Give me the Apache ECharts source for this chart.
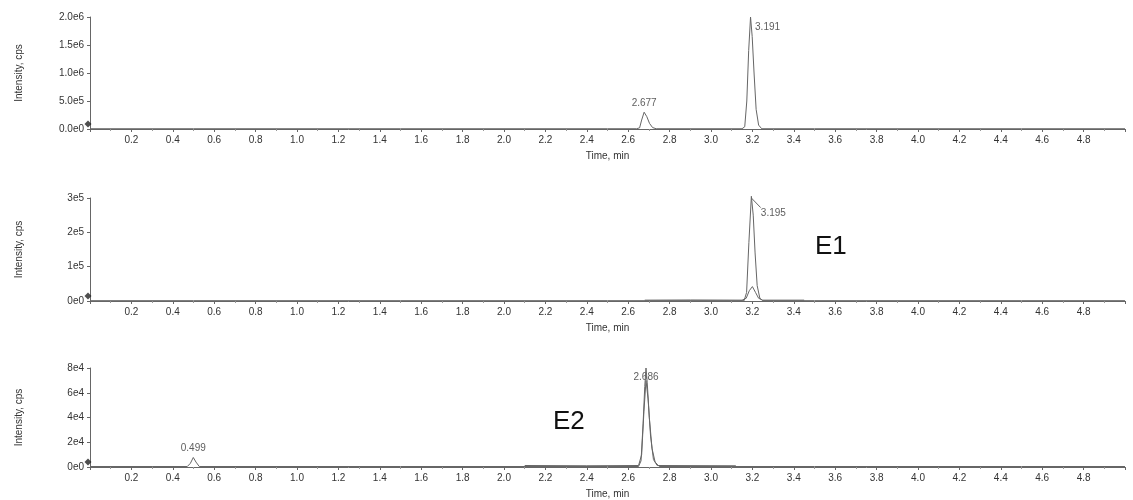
<!DOCTYPE html>
<html>
<head>
<meta charset="utf-8">
<script src="https://cdn.jsdelivr.net/npm/echarts@6/dist/echarts.min.js"></script>
<style>html,body{margin:0;padding:0;background:#fff}#c{width:1133px;height:500px}</style>
</head>
<body>
<div id="c"></div>
<script>
// ---- Data (time in min, intensity in cps) ----
const p1Time = [0, 0.5, 1.0, 1.5, 2.0, 2.5, 2.64, 2.655, 2.665, 2.677, 2.69, 2.703, 2.718, 2.735, 3.0, 3.15, 3.163, 3.173, 3.182, 3.191, 3.199, 3.208, 3.218, 3.23, 3.245, 3.5, 4.0, 4.5, 5.0];
const p1Int  = [5e3, 5e3, 5e3, 5e3, 5e3, 5e3, 5e3, 2e4, 1.6e5, 3.0e5, 2.2e5, 1.0e5, 2.5e4, 5e3, 5e3, 5e3, 4e4, 5e5, 1.4e6, 2.0e6, 1.65e6, 1.0e6, 3.5e5, 7e4, 5e3, 5e3, 5e3, 5e3, 5e3];

const p2aTime = [0, 0.5, 1.0, 1.5, 2.0, 2.5, 3.0, 3.16, 3.172, 3.183, 3.195, 3.204, 3.213, 3.223, 3.236, 3.25, 3.5, 4.0, 4.5, 5.0];
const p2aInt  = [1e3, 1e3, 1e3, 1e3, 1e3, 1e3, 1e3, 1e3, 2.5e4, 1.7e5, 3.05e5, 2.5e5, 1.4e5, 4.5e4, 8e3, 1e3, 1e3, 1e3, 1e3, 1e3];
const p2bTime = [2.68, 2.9, 3.15, 3.17, 3.185, 3.2, 3.215, 3.23, 3.25, 3.45];
const p2bInt  = [2.5e3, 3e3, 2.5e3, 8e3, 3e4, 4.2e4, 2.5e4, 8e3, 2.5e3, 2.5e3];

const p3aTime = [0, 0.3, 0.47, 0.485, 0.499, 0.512, 0.528, 1.0, 1.5, 2.0, 2.5, 2.65, 2.662, 2.672, 2.68, 2.686, 2.692, 2.702, 2.715, 2.73, 2.75, 3.0, 3.5, 4.0, 4.5, 5.0];
const p3aInt  = [400, 400, 400, 3e3, 7.7e3, 4e3, 400, 400, 400, 400, 400, 400, 5e3, 3.5e4, 6.5e4, 8.0e4, 6.8e4, 4.0e4, 1.5e4, 4e3, 400, 400, 400, 400, 400, 400];
const p3bTime = [2.1, 2.4, 2.65, 2.665, 2.676, 2.686, 2.696, 2.708, 2.722, 2.74, 3.12];
const p3bInt  = [1.2e3, 1.0e3, 1.2e3, 1e4, 4.5e4, 7.0e4, 5.5e4, 2.5e4, 6e3, 1.2e3, 1.0e3];

// Peak annotations
const p1Peaks = [[2.677, 3.0e5], [3.191, 2.0e6]];
const p1PeakLabels = ['2.677', '3.191'];
const p2Peaks = [[3.195, 3.05e5]];
const p2PeakLabels = ['3.195'];
const p2Leader = [[3.195, 3.0e5], [3.24, 2.72e5]];
const p3Peaks = [[0.499, 7.7e3], [2.686, 8.0e4]];
const p3PeakLabels = ['0.499', '2.686'];

// Tick labels
const y1Ticks = ['0.0e0', '5.0e5', '1.0e6', '1.5e6', '2.0e6'];
const y2Ticks = ['0e0', '1e5', '2e5', '3e5'];
const y3Ticks = ['0e0', '2e4', '4e4', '6e4', '8e4'];
const xTicks = ['0.2','0.4','0.6','0.8','1.0','1.2','1.4','1.6','1.8','2.0','2.2','2.4','2.6','2.8','3.0','3.2','3.4','3.6','3.8','4.0','4.2','4.4','4.6','4.8'];

const zip = (a, b) => a.map((v, i) => [v, b[i]]);
const FONT = 'Liberation Sans';
const TXT = '#333';
const LINE = '#666';

function xAxisCfg(gi) {
  return {
    type: 'value', gridIndex: gi, min: 0, max: 5.0, interval: 0.2,
    name: 'Time, min', nameLocation: 'middle', nameGap: 22,
    nameTextStyle: { fontFamily: FONT, fontSize: 10, color: TXT },
    axisLine: { show: true, lineStyle: { color: LINE, width: 1 } },
    axisTick: { show: true, length: 3, lineStyle: { color: LINE } },
    minorTick: { show: true, splitNumber: 2, length: 2, lineStyle: { color: '#999' } },
    splitLine: { show: false },
    axisLabel: {
      fontFamily: FONT, fontSize: 10, color: TXT, margin: 6,
      formatter: v => { const i = Math.round(v / 0.2) - 1; return (i >= 0 && i < xTicks.length) ? xTicks[i] : ''; }
    }
  };
}
function yAxisCfg(gi, max, interval, ticks) {
  return {
    type: 'value', gridIndex: gi, min: 0, max: max, interval: interval,
    name: 'Intensity, cps', nameLocation: 'middle', nameGap: 66,
    nameTextStyle: { fontFamily: FONT, fontSize: 10, color: TXT },
    axisLine: { show: true, lineStyle: { color: LINE, width: 1 } },
    axisTick: { show: true, length: 3, lineStyle: { color: LINE } },
    splitLine: { show: false },
    axisLabel: {
      fontFamily: FONT, fontSize: 10, color: TXT, margin: 6,
      formatter: v => ticks[Math.round(v / interval)]
    }
  };
}
function lineSeries(gi, data) {
  return {
    type: 'line', xAxisIndex: gi, yAxisIndex: gi, data: data, clip: false,
    showSymbol: false, symbol: 'none', silent: true, animation: false,
    lineStyle: { color: LINE, width: 1 }
  };
}
function labelSeries(gi, pts, labels, labelCfgs, extra) {
  return Object.assign({
    type: 'scatter', xAxisIndex: gi, yAxisIndex: gi, symbolSize: 1, silent: true, animation: false,
    clip: false,
    itemStyle: { color: 'transparent' },
    data: pts.map((p, i) => ({
      value: p,
      label: Object.assign({ show: true, formatter: labels[i], fontFamily: FONT, fontSize: 10, color: TXT }, labelCfgs[i])
    }))
  }, extra || {});
}
function originMark(gi) {
  return {
    type: 'scatter', xAxisIndex: gi, yAxisIndex: gi, symbol: 'diamond', symbolSize: 7,
    symbolOffset: [-2, -5], silent: true, animation: false, clip: false,
    itemStyle: { color: '#222' }, data: [[0, 0]]
  };
}

const option = {
  backgroundColor: '#fff',
  animation: false,
  grid: [
    { left: 90, right: 8, top: 17, height: 112 },
    { left: 90, right: 8, top: 198, height: 103 },
    { left: 90, right: 8, top: 368, height: 104 }
  ],
  xAxis: [xAxisCfg(0), xAxisCfg(1), xAxisCfg(2)],
  yAxis: [
    yAxisCfg(0, 2.0e6, 5e5, y1Ticks),
    yAxisCfg(1, 3e5, 1e5, y2Ticks),
    yAxisCfg(2, 8e4, 2e4, y3Ticks)
  ],
  graphic: [
    { type: 'text', left: 815, top: 234, style: { text: 'E1', font: '26px "Liberation Sans"', fill: '#111' } },
    { type: 'text', left: 553, top: 409, style: { text: 'E2', font: '26px "Liberation Sans"', fill: '#111' } }
  ],
  series: [
    lineSeries(0, zip(p1Time, p1Int)),
    lineSeries(1, zip(p2aTime, p2aInt)),
    lineSeries(1, zip(p2bTime, p2bInt)),
    lineSeries(2, zip(p3aTime, p3aInt)),
    lineSeries(2, zip(p3bTime, p3bInt)),
    lineSeries(1, p2Leader),
    labelSeries(0, p1Peaks, p1PeakLabels, [
      { position: 'top', distance: 3 },
      { position: 'right', distance: 4, offset: [0, 10] }
    ]),
    labelSeries(1, p2Peaks, p2PeakLabels, [
      { position: 'right', distance: 9, offset: [0, 17] }
    ]),
    labelSeries(2, p3Peaks, p3PeakLabels, [
      { position: 'top', distance: 4 },
      { position: 'bottom', distance: 4 }
    ]),
    originMark(0), originMark(1), originMark(2)
  ]
};
const chart = echarts.init(document.getElementById('c'), null, { renderer: 'canvas' });
chart.setOption(option);
</script>
</body>
</html>
